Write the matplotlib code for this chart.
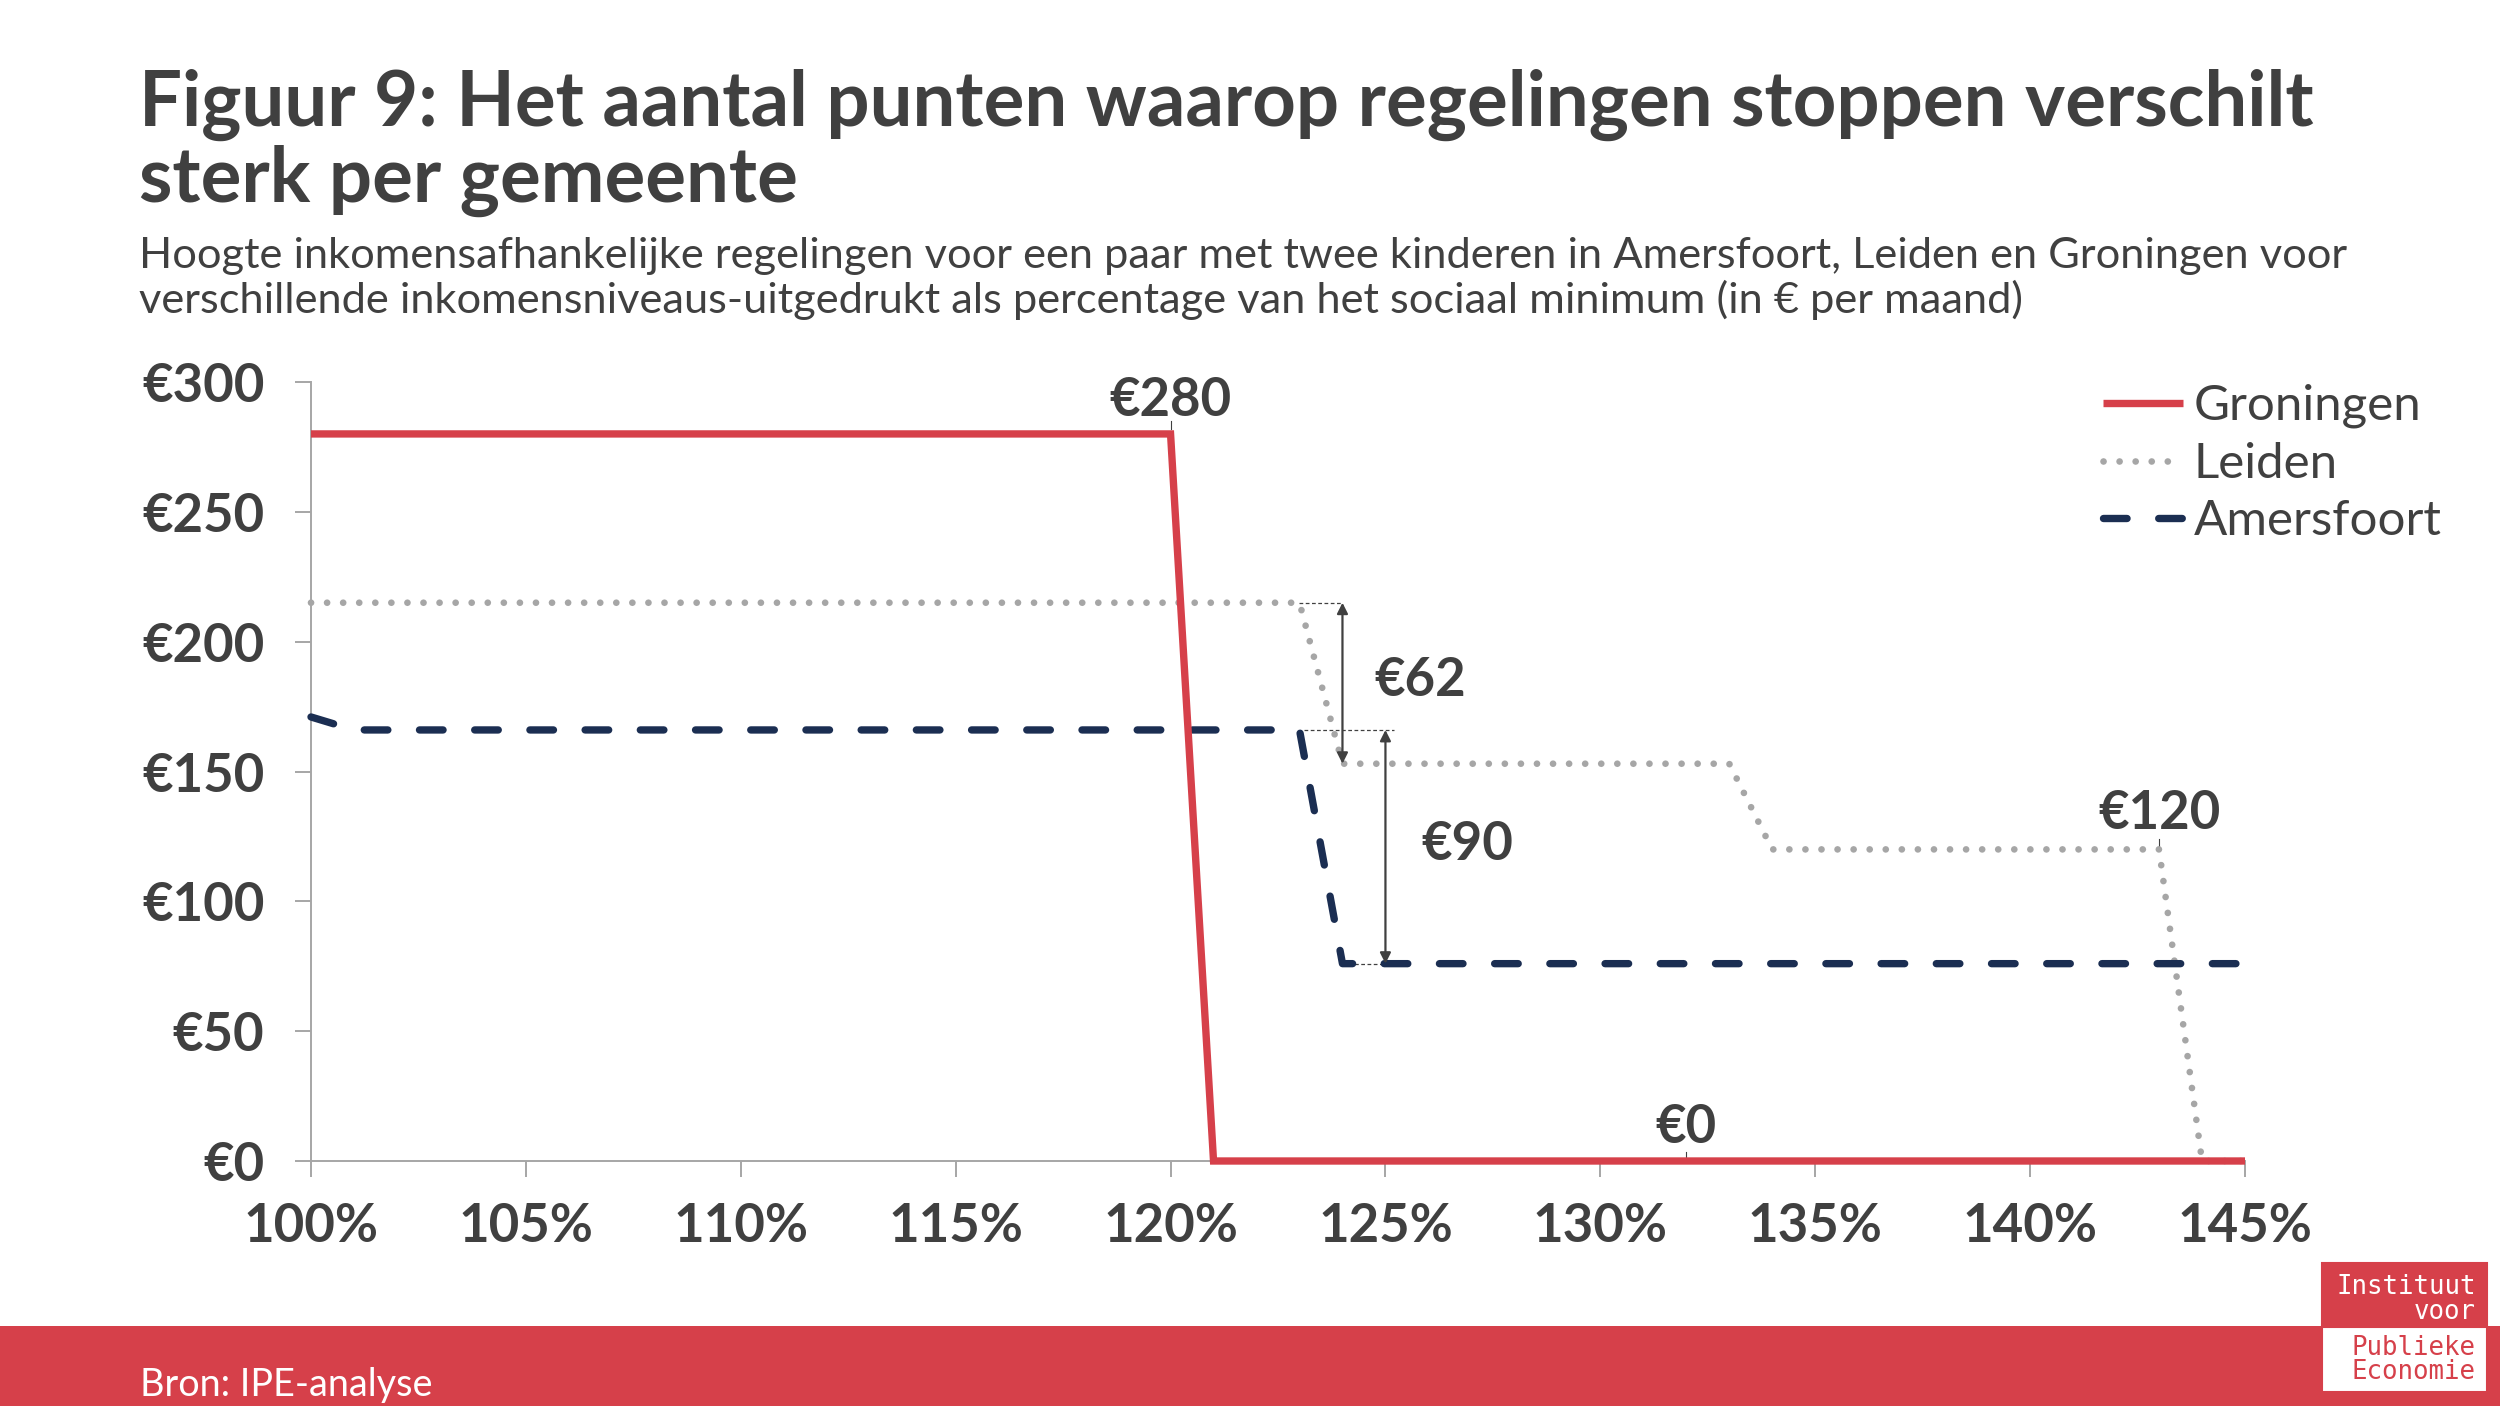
import matplotlib
matplotlib.use("Agg")
import matplotlib.pyplot as plt
from matplotlib.patches import Rectangle
from matplotlib.ticker import FuncFormatter

plt.rcParams["font.family"] = ["Lato", "DejaVu Sans"]

# ── colours ──────────────────────────────────────────────────────────────────
C_RED = "#d6404a"
C_GREY = "#a6a6a6"
C_NAVY = "#1b2e52"
C_TEXT = "#404040"
C_AXIS = "#a6a6a6"

# ── data (income as % of social minimum, € per month) ────────────────────────
gro_x = [100, 120, 121, 145]
gro_y = [280, 280, 0, 0]
lei_x = [100, 123, 124, 133, 134, 143, 144, 145]
lei_y = [215, 215, 153, 153, 120, 120, 0, 0]
ams_x = [100, 101, 123, 124, 145]
ams_y = [171, 166, 166, 76, 76]

x_ticks = [100, 105, 110, 115, 120, 125, 130, 135, 140, 145]
y_ticks = [0, 50, 100, 150, 200, 250, 300]

TITLE = ["Figuur 9: Het aantal punten waarop regelingen stoppen verschilt",
         "sterk per gemeente"]
SUBTITLE = ["Hoogte inkomensafhankelijke regelingen voor een paar met twee kinderen in Amersfoort, Leiden en Groningen voor",
            "verschillende inkomensniveaus-uitgedrukt als percentage van het sociaal minimum (in € per maand)"]
SOURCE = "Bron: IPE-analyse"

W, H = 2500, 1406
fig = plt.figure(figsize=(W / 100, H / 100), dpi=100)
fig.patch.set_facecolor("white")


def fx(px):
    return px / W


def fy(px):
    return 1 - px / H


def fit_width(txt, target_px):
    r = fig.canvas.get_renderer()
    w = txt.get_window_extent(r).width
    txt.set_fontsize(txt.get_fontsize() * target_px / w)


# ── titles ───────────────────────────────────────────────────────────────────
t1 = fig.text(fx(139), fy(126), TITLE[0], fontsize=40, fontweight="bold",
              color=C_TEXT, va="baseline", ha="left")
fit_width(t1, 2176)
fig.text(fx(139), fy(202), TITLE[1], fontsize=t1.get_fontsize(), fontweight="bold",
         color=C_TEXT, va="baseline", ha="left")
s1 = fig.text(fx(139), fy(268), SUBTITLE[0], fontsize=24, color=C_TEXT,
              va="baseline", ha="left")
fit_width(s1, 2210)
fig.text(fx(139), fy(313), SUBTITLE[1], fontsize=s1.get_fontsize(), color=C_TEXT,
         va="baseline", ha="left")

# ── chart ────────────────────────────────────────────────────────────────────
ax = fig.add_axes([fx(311), fy(1161), fx(2245 - 311), (1161 - 382) / H])
ax.plot(gro_x, gro_y, color=C_RED, lw=5.3, label="Groningen", clip_on=False,
        solid_capstyle="butt", solid_joinstyle="miter", zorder=4)
ax.plot(lei_x, lei_y, color=C_GREY, lw=4.8, label="Leiden", clip_on=False,
        linestyle=(0, (0.01, 2.4)), dash_capstyle="round", zorder=3)
ax.plot(ams_x, ams_y, color=C_NAVY, lw=5.3, label="Amersfoort", clip_on=False,
        linestyle=(0, (3.2, 4.3)), dash_capstyle="round", zorder=3)

ax.set_xlim(100, 145)
ax.set_ylim(0, 300)
ax.set_xticks(x_ticks)
ax.set_yticks(y_ticks)
ax.xaxis.set_major_formatter(FuncFormatter(lambda v, p: f"{v:.0f}%"))
ax.yaxis.set_major_formatter(FuncFormatter(lambda v, p: f"€{v:.0f}"))
ax.tick_params(axis="both", direction="out", length=11.5, width=1.4, color=C_AXIS,
               labelsize=38, labelcolor=C_TEXT)
ax.tick_params(axis="x", pad=18)
ax.tick_params(axis="y", pad=22)
for lab in ax.get_xticklabels() + ax.get_yticklabels():
    lab.set_fontweight("bold")
ax.spines[["top", "right"]].set_visible(False)
for s in ("left", "bottom"):
    ax.spines[s].set_color(C_AXIS)
    ax.spines[s].set_linewidth(1.4)

# ── annotations ──────────────────────────────────────────────────────────────
lab_kw = dict(fontsize=38, fontweight="bold", color=C_TEXT, ha="center", va="center")
ax.text(120, 293, "€280", **lab_kw)
ax.plot([120, 120], [282, 285], color=C_TEXT, lw=0.8)
ax.text(143, 134, "€120", **lab_kw)
ax.plot([143, 143], [121, 124], color=C_TEXT, lw=0.8)
ax.text(132, 13, "€0", **lab_kw)
ax.plot([132, 132], [0.5, 3.5], color=C_TEXT, lw=0.8)
ax.text(125.8, 185, "€62", **lab_kw)
ax.text(126.9, 122, "€90", **lab_kw)

lead = dict(color=C_TEXT, lw=0.9, linestyle=(0, (3, 2)), zorder=2)
ax.plot([123, 124], [215, 215], **lead)
ax.plot([123.1, 125.2], [166, 166], **lead)
ax.plot([124, 125], [76, 76], **lead)

arrow = dict(arrowstyle="<|-|>", color=C_TEXT, lw=1.6, mutation_scale=16,
             shrinkA=0, shrinkB=0)
ax.annotate("", xy=(124, 153), xytext=(124, 215), arrowprops=arrow)
ax.annotate("", xy=(125, 76), xytext=(125, 166), arrowprops=arrow)

leg = ax.legend(loc="upper left", bbox_to_anchor=(fx(2103), fy(384)),
                bbox_transform=fig.transFigure, frameon=False, fontsize=35.5,
                handlelength=1.62, handletextpad=0.22, labelspacing=0.27,
                borderpad=0, borderaxespad=0)
for t in leg.get_texts():
    t.set_color(C_TEXT)

# ── footer ───────────────────────────────────────────────────────────────────
fig.patches.append(Rectangle((0, 0), 1, (H - 1326) / H, transform=fig.transFigure,
                             facecolor=C_RED, edgecolor="none", zorder=0))
b = fig.text(fx(140), fy(1396), SOURCE, fontsize=25, color="white",
             va="baseline", ha="left")
fit_width(b, 292)

# logo
fig.patches.append(Rectangle((fx(2322), fy(1327)), fx(2487 - 2322), (1327 - 1263) / H,
                             transform=fig.transFigure, facecolor=C_RED,
                             edgecolor=C_RED, lw=1.5, zorder=5))
fig.patches.append(Rectangle((fx(2322), fy(1392)), fx(2487 - 2322), (1392 - 1327) / H,
                             transform=fig.transFigure, facecolor="white",
                             edgecolor=C_RED, lw=1.5, zorder=5))
mono = dict(family="DejaVu Sans Mono", fontsize=18.5, ha="right", va="center", zorder=6)
fig.text(fx(2476), fy(1287), "Instituut", color="white", **mono)
fig.text(fx(2476), fy(1312), "voor", color="white", **mono)
fig.text(fx(2476), fy(1348), "Publieke", color=C_RED, **mono)
fig.text(fx(2476), fy(1372), "Economie", color=C_RED, **mono)

fig.savefig("out.png", dpi=100, facecolor="white")
